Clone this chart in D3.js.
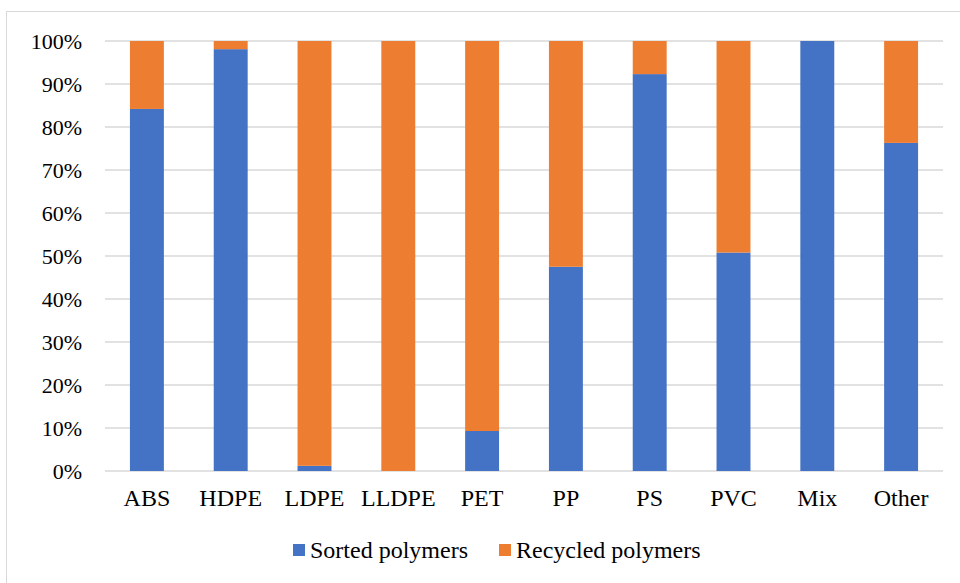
<!DOCTYPE html>
<html><head><meta charset="utf-8">
<script src="https://cdn.jsdelivr.net/npm/d3@7"></script>
<style>body{margin:0;background:#fff}</style>
</head><body><svg id="c" width="960" height="583"></svg>
<script>
const categories = ["ABS","HDPE","LDPE","LLDPE","PET","PP","PS","PVC","Mix","Other"];
const sorted = [84.2, 98.1, 1.2, 0, 9.3, 47.5, 92.3, 50.8, 100, 76.3];
const recycled = categories.map((c,i)=>100-sorted[i]);
const seriesNames = ["Sorted polymers","Recycled polymers"];
const colors = ["#4472C4","#ED7D31"];
const yTicks = [0,10,20,30,40,50,60,70,80,90,100];
const FONT = '"Times New Roman"';

const svg = d3.select("#c").style("font-family",FONT);
svg.append("rect").attr("x",6.5).attr("y",11.5).attr("width",960).attr("height",580)
  .attr("fill","#fff").attr("stroke","#d9d9d9");
const L=105,R=943,T=41,B=471;
const x = d3.scaleBand().domain(categories).range([L,R]).paddingInner(0.595).paddingOuter(0.2975);
const y = d3.scaleLinear().domain([0,100]).range([B,T]);

svg.selectAll("line.grid").data(yTicks).join("line").attr("class","grid")
  .attr("x1",L).attr("x2",R).attr("y1",d=>y(d)).attr("y2",d=>y(d))
  .attr("stroke","#d9d9d9").attr("stroke-width",1.3);

const data = categories.map((c,i)=>({cat:c, s:sorted[i], r:recycled[i]}));
const stack = d3.stack().keys(["s","r"])(data);
stack.forEach((layer,k)=>{
  svg.selectAll(null).data(layer).join("rect")
   .attr("x",d=>x(d.data.cat)).attr("width",x.bandwidth())
   .attr("y",d=>y(d[1])).attr("height",d=>y(d[0])-y(d[1]))
   .attr("fill",colors[k]);
});

// axes: compute tick positions with d3 axis generators, then draw text directly on svg
const yAxis = d3.axisLeft(y).tickValues(yTicks).tickFormat(d=>d+"%").tickSize(0).tickPadding(23);
const ya = svg.append("g").attr("transform",`translate(${L},0)`).call(yAxis);
ya.attr("font-family",null).attr("font-size",null);
ya.select(".domain").remove();
ya.selectAll("text").attr("fill","#000").style("font-family",FONT).attr("font-size",22);

const xAxis = d3.axisBottom(x).tickSize(0).tickPadding(18);
const xa = svg.append("g").attr("transform",`translate(0,${B})`).call(xAxis);
xa.attr("font-family",null).attr("font-size",null);
xa.select(".domain").remove();
xa.selectAll("text").attr("fill","#000").style("font-family",FONT).attr("font-size",24);

const legX=[293,499];
seriesNames.forEach((n,i)=>{
  svg.append("rect").attr("x",legX[i]).attr("y",544).attr("width",12).attr("height",12).attr("fill",colors[i]);
  svg.append("text").attr("x",legX[i]+17).attr("y",558).style("font-family",FONT).attr("font-size",24).attr("fill","#000").text(n);
});
</script></body></html>
